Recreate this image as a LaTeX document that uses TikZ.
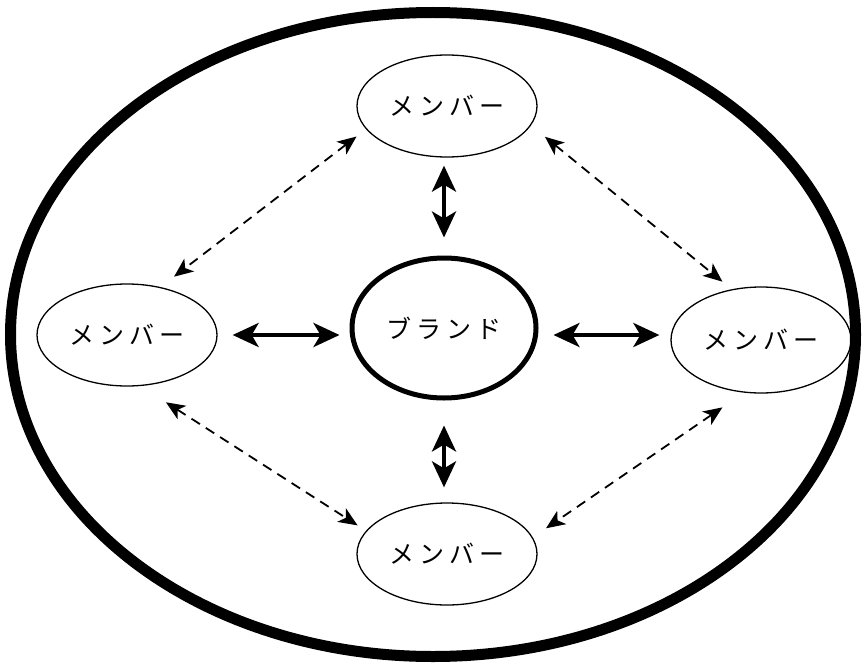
\documentclass[tikz,border=0pt]{standalone}
\usepackage{fontspec}
\newfontfamily\jp{Noto Sans CJK JP}
\usetikzlibrary{arrows.meta,shapes.geometric}
\begin{document}
\begin{tikzpicture}[x=1pt,y=-1pt,
  member/.style={ellipse, draw, line width=1.3pt, minimum width=180pt, minimum height=102pt, inner sep=0pt, font=\jp\fontsize{25pt}{27pt}\selectfont},
  brandnode/.style={ellipse, draw, line width=5pt, minimum width=184pt, minimum height=140pt, inner sep=0pt, font=\jp\fontsize{25pt}{27pt}\selectfont},
  bigarrow/.style={line width=4pt, {Stealth[length=26pt,width=24pt,inset=7pt]}-{Stealth[length=26pt,width=24pt,inset=7pt]}},
  dasharrow/.style={line width=1.8pt, dash pattern=on 10pt off 7pt, {Stealth[length=19pt,width=16pt,inset=5pt]}-{Stealth[length=19pt,width=16pt,inset=5pt]}}
]
\useasboundingbox (0,0) rectangle (866,666);
\draw[line width=11pt] (433,334.5) ellipse [x radius=422.5, y radius=322];
\newcommand{\mem}{メ\hspace{5pt}ン\hspace{5pt}バ\hspace{5pt}ー}
\node[member] (top) at (447,106) {\mem};
\node[member] (left) at (127,335) {\mem};
\node[member, minimum height=106pt] (right) at (761,340) {\mem};
\node[member] (bottom) at (447,554) {\mem};
\node[brandnode] (brand) at (444,328) {ブ\hspace{5pt}ラ\hspace{5pt}ン\hspace{5pt}ド};
% solid arrows
\draw[bigarrow, shorten <=15pt, shorten >=10pt] (left.east) -- (left.east -| brand.west);
\draw[bigarrow, shorten <=15pt, shorten >=11pt] (left.east -| brand.east) -- (left.east -| right.west);
\draw[bigarrow, shorten <=8pt, shorten >=18pt] (brand.north |- top.south) -- (brand.north);
\draw[bigarrow, shorten <=25pt, shorten >=15pt] (brand.south) -- (brand.south |- bottom.north);
% dashed arrows
\draw[dasharrow, shorten <=12pt, shorten >=17pt] (top.196) -- (left.55);
\draw[dasharrow, shorten <=18pt, shorten >=12pt] (top.347) -- (right.120);
\draw[dasharrow, shorten <=30pt, shorten >=10pt] (left.285) -- (bottom.164);
\draw[dasharrow, shorten <=26pt, shorten >=16pt] (right.252) -- (bottom.11);
\end{tikzpicture}
\end{document}
